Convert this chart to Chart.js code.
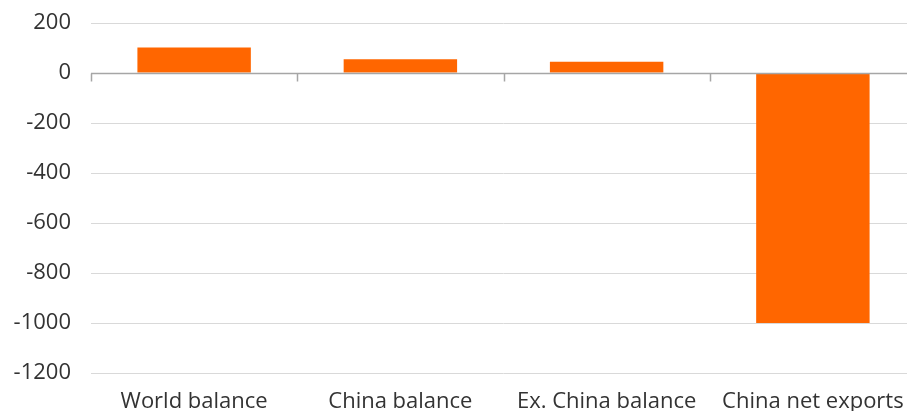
<!DOCTYPE html>
<html>
<head>
<meta charset="utf-8">
<script src="https://cdn.jsdelivr.net/npm/chart.js@4"></script>
<style>
html,body{margin:0;padding:0;background:#fff;overflow:hidden;width:907px;height:411px;}
#wrap{width:916px;height:416px;position:relative;}
</style>
</head>
<body>
<div id="wrap"><canvas id="c" width="916" height="416"></canvas></div>
<script>
const categories = ["World balance", "China balance", "Ex. China balance", "China net exports"];
const values = [102, 55, 45, -1000];
const yMin = -1200, yMax = 200, yStep = 200;

const zeroAxis = {
  id: 'zeroAxis',
  afterDatasetsDraw(chart) {
    const {ctx, chartArea, scales} = chart;
    const y0 = Math.round(scales.y.getPixelForValue(0)) + 0.5;
    ctx.save();
    ctx.strokeStyle = '#a6a6a6';
    ctx.lineWidth = 1.5;
    ctx.beginPath();
    ctx.moveTo(chartArea.left, y0);
    ctx.lineTo(chartArea.right, y0);
    ctx.stroke();
    const n = categories.length;
    const step = scales.x.getPixelForValue(1) - scales.x.getPixelForValue(0);
    for (let i = 0; i <= n; i++) {
      const x = i < n ? scales.x.getPixelForValue(i) - step / 2 : chartArea.right;
      const xr = Math.round(x) + 0.5;
      ctx.beginPath();
      ctx.moveTo(xr, y0);
      ctx.lineTo(xr, y0 + 8);
      ctx.stroke();
    }
    ctx.restore();
  }
};

new Chart(document.getElementById('c'), {
  type: 'bar',
  data: {
    labels: categories,
    datasets: [{
      data: values,
      backgroundColor: '#FF6600',
      borderWidth: 0,
      barPercentage: 0.55,
      categoryPercentage: 1.0
    }]
  },
  options: {
    responsive: false,
    animation: false,
    layout: {padding: {top: 23, left: 0, right: 0, bottom: 0}},
    plugins: {legend: {display: false}, tooltip: {enabled: false}},
    scales: {
      x: {
        grid: {display: false, drawTicks: false},
        border: {display: false},
        ticks: {
          color: '#333333',
          font: {family: 'Open Sans', size: 22},
          padding: 16,
          maxRotation: 0
        },
        afterFit(scale) { scale.height = 43; scale.paddingLeft = 0; scale.paddingRight = 0; }
      },
      y: {
        min: yMin, max: yMax,
        border: {display: false},
        grid: {
          color: ctx => ctx.tick && ctx.tick.value === 0 ? 'rgba(0,0,0,0)' : '#d9d9d9',
          lineWidth: 1,
          drawTicks: false
        },
        ticks: {
          stepSize: yStep,
          color: '#333333',
          font: {family: 'Open Sans', size: 22},
          padding: 20,
          callback: v => String(v)
        },
        afterFit(scale) { scale.width = 91; scale.paddingTop = 0; scale.paddingBottom = 0; }
      }
    }
  },
  plugins: [zeroAxis]
});
</script>
</body>
</html>
